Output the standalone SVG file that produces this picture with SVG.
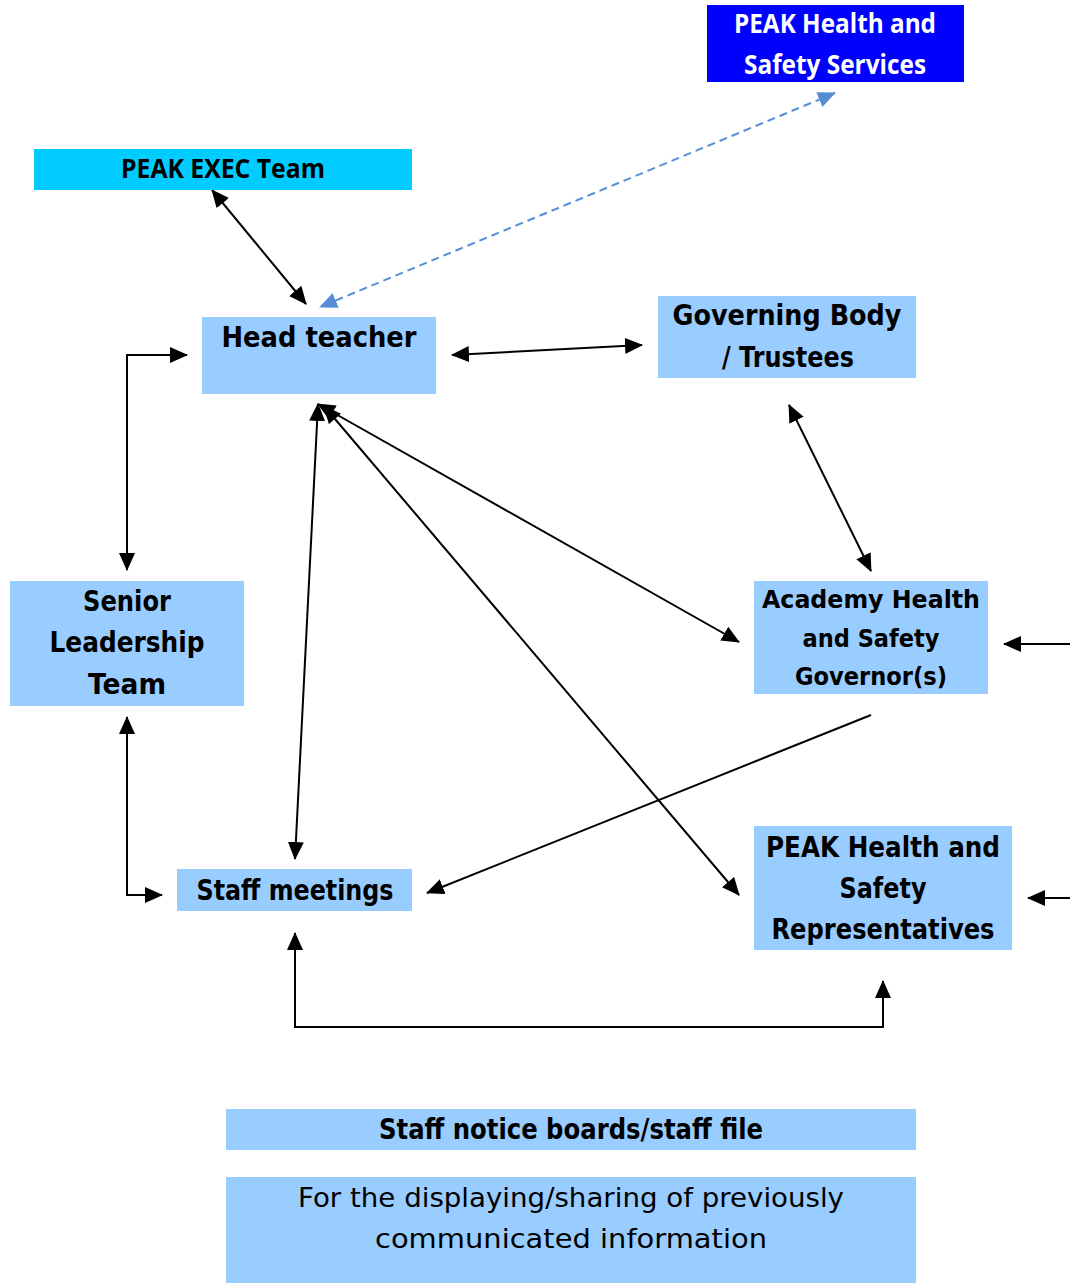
<svg xmlns="http://www.w3.org/2000/svg" width="1070" height="1283" viewBox="0 0 1070 1283">
<style>
.box{fill:#99CCFF}
.t{font-family:"DejaVu Sans",sans-serif;font-weight:bold;font-size:28px;fill:#000;text-anchor:middle}
.ts{font-size:25px}
.c{font-family:"Open Sans","Liberation Sans",sans-serif;font-weight:bold;font-size:26px;text-anchor:middle}
.r{font-family:"DejaVu Sans",sans-serif;font-size:27px;fill:#000;text-anchor:middle}
.ln{fill:none;stroke:#000;stroke-width:2}
.dash{fill:none;stroke:#558ED5;stroke-width:2;stroke-dasharray:8,5}
</style>
<defs>
<marker id="ah" markerUnits="userSpaceOnUse" viewBox="0 0 18 16" markerWidth="18" markerHeight="16" refX="17" refY="8" orient="auto-start-reverse"><path d="M0,0 L18,8 L0,16 z" fill="#000"/></marker>
<marker id="ahb" markerUnits="userSpaceOnUse" viewBox="0 0 18 16" markerWidth="18" markerHeight="16" refX="17" refY="8" orient="auto-start-reverse"><path d="M0,0 L18,8 L0,16 z" fill="#558ED5"/></marker>
</defs>
<rect width="1070" height="1283" fill="#fff"/>
<g id="connectors">
<line class="ln" x1="212" y1="190" x2="306" y2="304" marker-start="url(#ah)" marker-end="url(#ah)"/>
<line class="dash" x1="835" y1="93" x2="320" y2="307" marker-start="url(#ahb)" marker-end="url(#ahb)"/>
<line class="ln" x1="452" y1="355" x2="642" y2="345" marker-start="url(#ah)" marker-end="url(#ah)"/>
<polyline class="ln" points="127,570 127,355 187,355" marker-start="url(#ah)" marker-end="url(#ah)"/>
<polyline class="ln" points="127,717 127,895 162,895" marker-start="url(#ah)" marker-end="url(#ah)"/>
<line class="ln" x1="318" y1="404" x2="295" y2="859" marker-start="url(#ah)" marker-end="url(#ah)"/>
<line class="ln" x1="318" y1="404" x2="739" y2="642" marker-start="url(#ah)" marker-end="url(#ah)"/>
<line class="ln" x1="324" y1="406" x2="739" y2="895" marker-start="url(#ah)" marker-end="url(#ah)"/>
<line class="ln" x1="789" y1="405" x2="871" y2="571" marker-start="url(#ah)" marker-end="url(#ah)"/>
<line class="ln" x1="871" y1="715" x2="427" y2="893" marker-end="url(#ah)"/>
<polyline class="ln" points="295,933 295,1027 883,1027 883,981" marker-start="url(#ah)" marker-end="url(#ah)"/>
<line class="ln" x1="1070" y1="644" x2="1004" y2="644" marker-end="url(#ah)"/>
<line class="ln" x1="1070" y1="898" x2="1028" y2="898" marker-end="url(#ah)"/>
</g>
<g id="peak-hs-services">
<rect x="707" y="5" width="257" height="77" fill="#0000FF"/>
<text class="c" x="835" y="33" fill="#fff" textLength="202" lengthAdjust="spacingAndGlyphs">PEAK Health and</text>
<text class="c" x="835" y="74" fill="#fff" textLength="182" lengthAdjust="spacingAndGlyphs">Safety Services</text>
</g>
<g id="peak-exec">
<rect x="34" y="149" width="378" height="41" fill="#00CCFF"/>
<text class="c" x="223" y="178" fill="#000" textLength="204" lengthAdjust="spacingAndGlyphs">PEAK EXEC Team</text>
</g>
<g id="head-teacher">
<rect class="box" x="202" y="317" width="234" height="77"/>
<text class="t" x="319" y="347" textLength="195" lengthAdjust="spacingAndGlyphs">Head teacher</text>
</g>
<g id="governing-body">
<rect class="box" x="658" y="296" width="258" height="82"/>
<text class="t" x="787" y="325" textLength="229" lengthAdjust="spacingAndGlyphs">Governing Body</text>
<text class="t" x="788" y="367" textLength="132" lengthAdjust="spacingAndGlyphs">/ Trustees</text>
</g>
<g id="senior-leadership">
<rect class="box" x="10" y="581" width="234" height="125"/>
<text class="t" x="127" y="611" textLength="88" lengthAdjust="spacingAndGlyphs">Senior</text>
<text class="t" x="127" y="652" textLength="155" lengthAdjust="spacingAndGlyphs">Leadership</text>
<text class="t" x="127" y="694" textLength="78" lengthAdjust="spacingAndGlyphs">Team</text>
</g>
<g id="academy-governor">
<rect class="box" x="754" y="581" width="234" height="113"/>
<text class="t ts" x="871" y="608" textLength="218" lengthAdjust="spacingAndGlyphs">Academy Health</text>
<text class="t ts" x="871" y="647" textLength="137" lengthAdjust="spacingAndGlyphs">and Safety</text>
<text class="t ts" x="871" y="685" textLength="152" lengthAdjust="spacingAndGlyphs">Governor(s)</text>
</g>
<g id="staff-meetings">
<rect class="box" x="177" y="869" width="235" height="42"/>
<text class="t" x="295" y="900" textLength="197" lengthAdjust="spacingAndGlyphs">Staff meetings</text>
</g>
<g id="peak-reps">
<rect class="box" x="754" y="826" width="258" height="124"/>
<text class="t" x="883" y="857" textLength="234" lengthAdjust="spacingAndGlyphs">PEAK Health and</text>
<text class="t" x="883" y="898" textLength="87" lengthAdjust="spacingAndGlyphs">Safety</text>
<text class="t" x="883" y="939" textLength="223" lengthAdjust="spacingAndGlyphs">Representatives</text>
</g>
<g id="notice-boards">
<rect class="box" x="226" y="1109" width="690" height="41"/>
<text class="t" x="571" y="1139" textLength="384" lengthAdjust="spacingAndGlyphs">Staff notice boards/staff file</text>
</g>
<g id="displaying-note">
<rect class="box" x="226" y="1177" width="690" height="106"/>
<text class="r" x="571" y="1207" textLength="546" lengthAdjust="spacingAndGlyphs">For the displaying/sharing of previously</text>
<text class="r" x="571" y="1248" textLength="392" lengthAdjust="spacingAndGlyphs">communicated information</text>
</g>
</svg>
